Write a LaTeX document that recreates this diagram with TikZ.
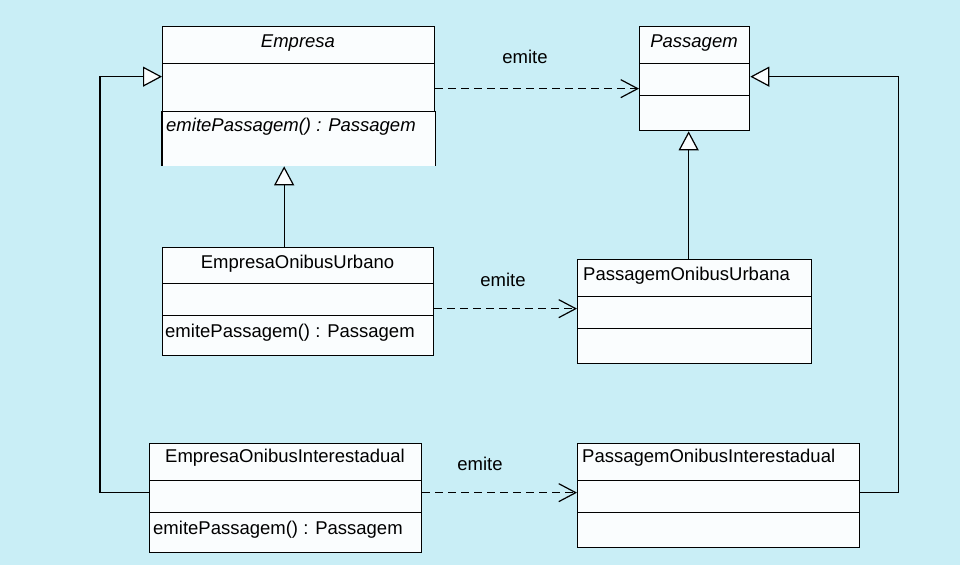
\documentclass[tikz,border=0pt]{standalone}
\usepackage{fontspec}
\setmainfont{Liberation Sans}
\usetikzlibrary{arrows.meta}
\definecolor{bg}{RGB}{201,238,246}
\definecolor{boxfill}{RGB}{250,253,254}
\begin{document}
\begin{tikzpicture}[x=1pt,y=-1pt,
  font=\fontsize{18.5}{22}\selectfont,
  comp/.style={draw=black, fill=boxfill, line width=1.3pt, inner sep=0pt, anchor=north west},
  txt/.style={inner sep=0pt},
  dep/.style={line width=1.3pt, dash pattern=on 8pt off 5pt, -{Straight Barb[length=17pt,width=18pt,line width=1.2pt]}},
  gen/.style={line width=1.3pt, -{Triangle[open,length=19pt,width=20pt,fill=boxfill,line width=1.2pt]}}]
\useasboundingbox (0,0) rectangle (960,565);
\fill[bg] (0,0) rectangle (960,565);

% Empresa
\node[comp, minimum width=272pt, minimum height=37pt] (empN) at (162,26) {};
\node[comp, minimum width=272pt, minimum height=48pt] (empA) at (162,63) {};
\node[comp, draw=none, minimum width=272pt, minimum height=54pt] (empM) at (162,111) {};
\draw[line width=1.3pt] (empM.north west) -- (empM.south west) (empM.north east) -- (empM.south east);
\node[txt] (empT) at (298,43) {\itshape Empresa};
\node[txt, anchor=west] (empMT) at (166,127) {\itshape emitePassagem() : Passagem};

% Passagem
\node[comp, minimum width=110pt, minimum height=37pt] (pasN) at (639,26) {};
\node[comp, minimum width=110pt, minimum height=32pt] (pasA) at (639,63) {};
\node[comp, minimum width=110pt, minimum height=35pt] (pasM) at (639,95) {};
\node[txt] (pasT) at (694,43) {\itshape Passagem};

% EmpresaOnibusUrbano
\node[comp, minimum width=271pt, minimum height=36pt] (eouN) at (162,247) {};
\node[comp, minimum width=271pt, minimum height=32pt] (eouA) at (162,283) {};
\node[comp, minimum width=271pt, minimum height=40pt] (eouM) at (162,315) {};
\node[txt] (eouT) at (297.5,264) {EmpresaOnibusUrbano};
\node[txt, anchor=west] (eouMT) at (165,333) {emitePassagem() : Passagem};

% PassagemOnibusUrbana
\node[comp, minimum width=234pt, minimum height=37pt] (pouN) at (577,259) {};
\node[comp, minimum width=234pt, minimum height=32pt] (pouA) at (577,296) {};
\node[comp, minimum width=234pt, minimum height=35pt] (pouM) at (577,328) {};
\node[txt, anchor=west] (pouT) at (583,276) {PassagemOnibusUrbana};

% EmpresaOnibusInterestadual
\node[comp, minimum width=272pt, minimum height=37pt] (eoiN) at (149,443) {};
\node[comp, minimum width=272pt, minimum height=32pt] (eoiA) at (149,480) {};
\node[comp, minimum width=272pt, minimum height=40pt] (eoiM) at (149,512) {};
\node[txt] (eoiT) at (285,458) {EmpresaOnibusInterestadual};
\node[txt, anchor=west] (eoiMT) at (153,530) {emitePassagem() : Passagem};

% PassagemOnibusInterestadual
\node[comp, minimum width=282pt, minimum height=37pt] (poiN) at (577,443) {};
\node[comp, minimum width=282pt, minimum height=32pt] (poiA) at (577,480) {};
\node[comp, minimum width=282pt, minimum height=35pt] (poiM) at (577,512) {};
\node[txt, anchor=west] (poiT) at (582,458) {PassagemOnibusInterestadual};

% dependencies
\draw[dep] ([yshift=-1pt]empA.east) -- ([yshift=-1pt]empA.east -| pasA.west);
\draw[dep] ([yshift=-9pt]eouA.east) -- ([yshift=-9pt]eouA.east -| pouA.west);
\draw[dep] ([yshift=4pt]eoiA.east) -- ([yshift=4pt]eoiA.east -| poiA.west);
\node[txt] (l1) at (525,57) {emite};
\node[txt] (l2) at (503,280) {emite};
\node[txt] (l3) at (480,464) {emite};

% generalizations
\draw[gen] ([xshift=-14pt]eouN.north) -- ([xshift=-14pt]eouN.north |- empM.south);
\draw[gen] ([xshift=-6pt]pouN.north) -- ([xshift=-6pt]pouN.north |- pasM.south);
\draw[gen] ([yshift=4pt]eoiA.west) -- ++(-49,0) |- ([yshift=11pt]empA.west);
\draw[gen] ([yshift=4pt]poiA.east) -- ++(38,0) |- ([yshift=3pt]pasA.east);
\end{tikzpicture}
\end{document}
